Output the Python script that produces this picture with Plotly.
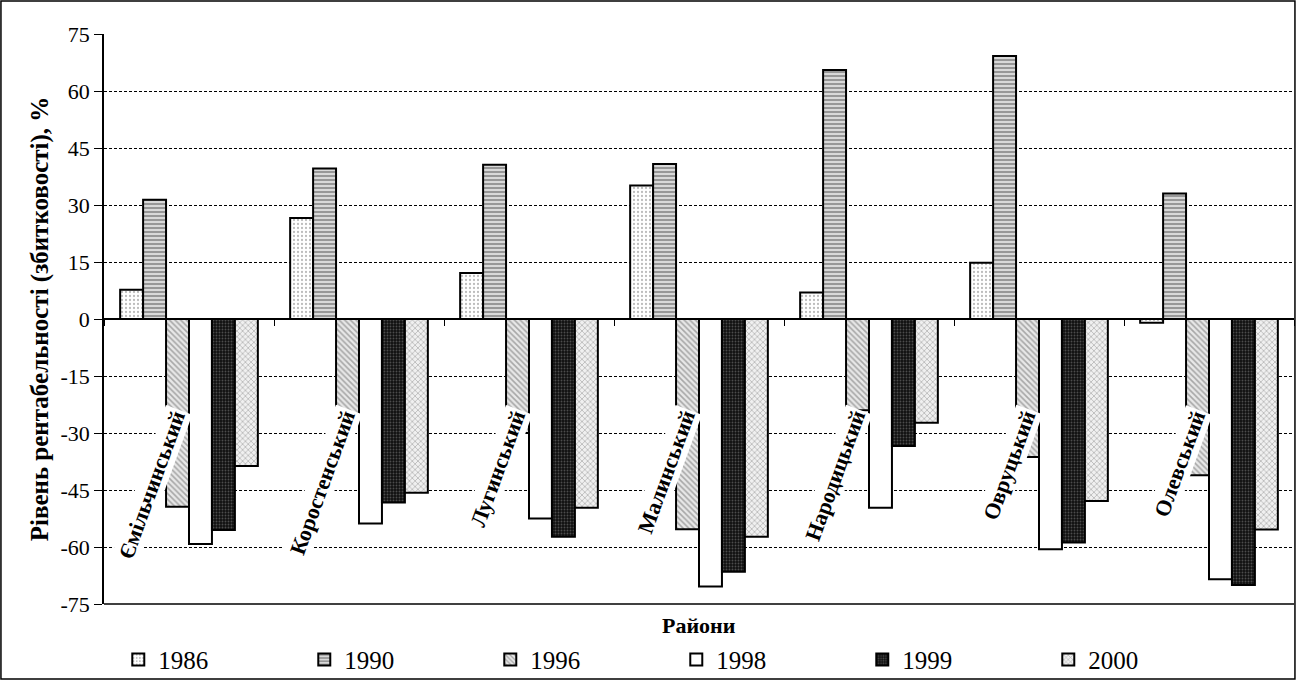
import plotly.graph_objects as go

districts = ["Ємільчинський", "Коростенський", "Лугинський", "Малинський",
             "Народицький", "Овруцький", "Олевський"]
years = ["1986", "1990", "1996", "1998", "1999", "2000"]

v1986 = [7.7, 26.6, 12.1, 35.1, 7.0, 14.8, -1.0]
v1990 = [31.4, 39.6, 40.6, 40.8, 65.5, 69.2, 33.0]
v1996 = [-49.4, -25.0, -30.0, -55.3, -24.0, -36.3, -41.1]
v1998 = [-59.2, -53.8, -52.5, -70.4, -49.7, -60.6, -68.5]
v1999 = [-55.5, -48.3, -57.3, -66.5, -33.4, -58.8, -70.0]
v2000 = [-38.7, -45.7, -49.7, -57.3, -27.3, -47.9, -55.4]
series = [v1986, v1990, v1996, v1998, v1999, v2000]

y_ticks = [-75, -60, -45, -30, -15, 0, 15, 30, 45, 60, 75]

styles = [
    dict(color="white", pattern=dict(shape=".", fgcolor="#777777", bgcolor="white", size=4, solidity=0.25)),
    dict(color="#9a9a9a", pattern=dict(shape="-", fgcolor="#555555", bgcolor="#d8d8d8", size=4, solidity=0.5)),
    dict(color="#bbbbbb", pattern=dict(shape="\\", fgcolor="#666666", bgcolor="#e8e8e8", size=4, solidity=0.4)),
    dict(color="white", pattern=dict(shape="")),
    dict(color="#222222", pattern=dict(shape=".", fgcolor="#888888", bgcolor="#111111", size=3, solidity=0.3)),
    dict(color="#cccccc", pattern=dict(shape="x", fgcolor="#777777", bgcolor="#f0f0f0", size=4, solidity=0.35)),
]

fig = go.Figure()
for name, vals, st in zip(years, series, styles):
    fig.add_trace(go.Bar(
        x=districts, y=vals, name=name,
        marker=dict(color=st["color"], pattern=st["pattern"],
                    line=dict(color="black", width=2)),
    ))

serif = "Liberation Serif"

for d in districts:
    fig.add_annotation(
        x=d, y=-22.5, xref="x", yref="y", text="<b>" + d + "</b>",
        textangle=-70, showarrow=False, xanchor="right", yanchor="top",
        xshift=4, bgcolor="white",
        font=dict(family=serif, size=22, color="black"),
    )

fig.add_annotation(
    x=0.5, y=-0.037, xref="paper", yref="paper", text="<b>Райони</b>",
    showarrow=False, xanchor="center", yanchor="middle",
    font=dict(family=serif, size=22, color="black"),
)

# plot area bottom line and outer frame
fig.add_shape(type="line", xref="paper", yref="paper", x0=0, x1=1, y0=0, y1=0,
              line=dict(color="black", width=1.5))
fig.add_shape(type="rect", xref="paper", yref="paper",
              x0=-0.0866, x1=1.0008, y0=-0.1316, y1=1.0579,
              line=dict(color="black", width=1.5), layer="above")

fig.update_layout(
    width=1297, height=680,
    margin=dict(l=104, r=3, t=34, b=76, autoexpand=False),
    paper_bgcolor="white", plot_bgcolor="white",
    barmode="group", bargap=0.19, bargroupgap=0,
    font=dict(family=serif, color="black"),
    showlegend=True,
    legend=dict(orientation="h", x=0.012, y=-0.098, xanchor="left", yanchor="middle",
                font=dict(family=serif, size=25, color="black"),
                entrywidth=141, entrywidthmode="pixels", traceorder="normal",
                itemwidth=30, bgcolor="rgba(0,0,0,0)"),
    xaxis=dict(
        anchor="free", position=0.5,
        showline=True, linecolor="black", linewidth=1.5,
        ticks="outside", tickson="boundaries", ticklen=6, tickcolor="black",
        showticklabels=False, showgrid=False,
    ),
    yaxis=dict(
        range=[-75, 75], tickvals=y_ticks, ticktext=[str(t) for t in y_ticks],
        showline=True, linecolor="black", linewidth=1.5,
        ticks="outside", ticklen=8, tickcolor="black",
        tickfont=dict(family=serif, size=22, color="black"),
        showgrid=True, gridcolor="black", griddash="3px,2px", gridwidth=1,
        zeroline=False,
        title=dict(text="<b>Рівень рентабельності (збитковості), %</b>",
                   font=dict(family=serif, size=25, color="black"), standoff=5),
    ),
)

fig.write_html("out.html", config={"displayModeBar": False},
               post_script="document.body.style.margin='0px';document.body.style.overflow='hidden';")
